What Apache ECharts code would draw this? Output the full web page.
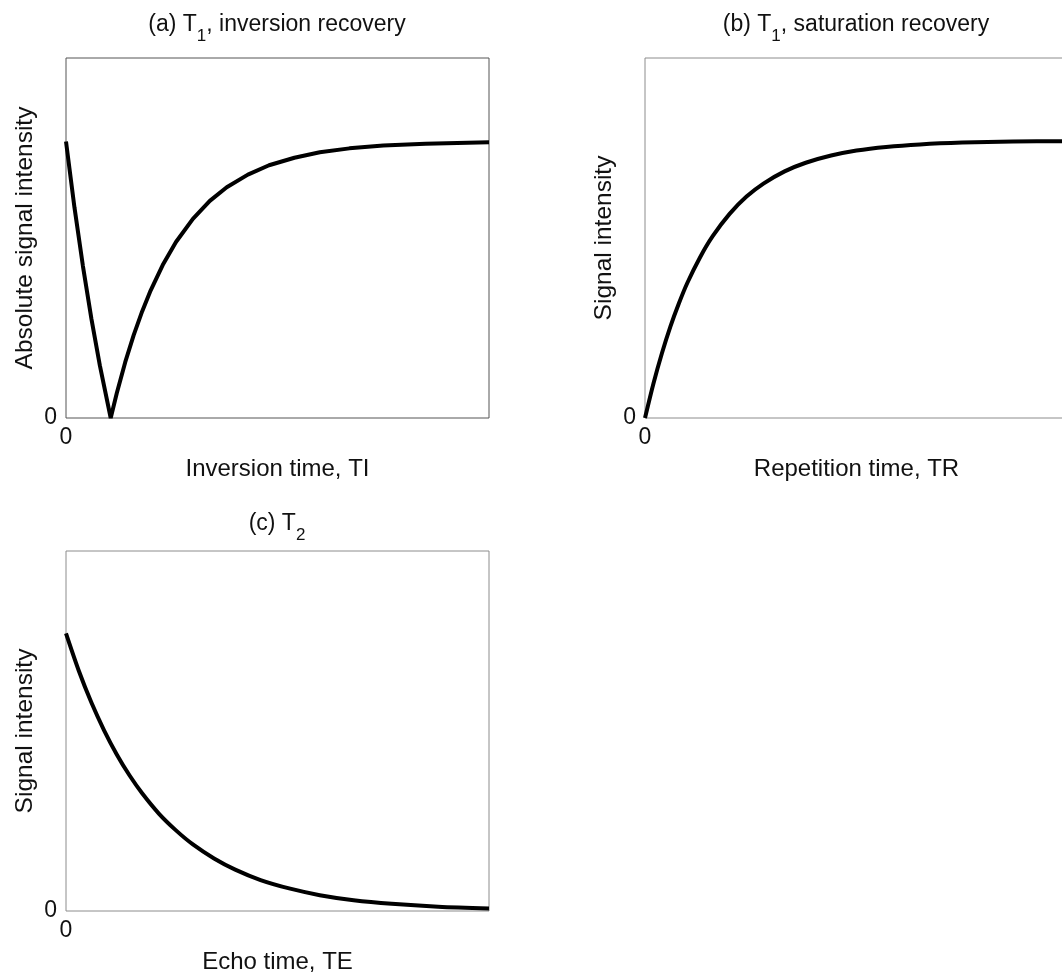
<!DOCTYPE html>
<html>
<head>
<meta charset="utf-8">
<script src="https://cdn.jsdelivr.net/npm/echarts@6/dist/echarts.min.js"></script>
<style>
  html, body { margin: 0; padding: 0; background: #fff; }
  #chart { width: 1062px; height: 977px; }
</style>
</head>
<body>
<div id="chart"></div>
<script>
// values, x in 0..100, y relative to panel height
const irTime = [0, 2, 4, 6, 8, 10.57, 12, 14, 16, 18, 20, 23, 26, 30, 34, 38, 43, 48, 54, 60, 67, 75, 85, 100];
const irSignal = [0.768, 0.585, 0.422, 0.276, 0.146, 0, 0.069, 0.155, 0.230, 0.296, 0.354, 0.428, 0.489, 0.553, 0.603, 0.641, 0.676, 0.702, 0.723, 0.738, 0.749, 0.757, 0.762, 0.766];

const srTime = [0, 2, 4, 6, 8, 10, 13, 16, 20, 24, 28, 33, 38, 44, 50, 57, 65, 75, 87, 100];
const srSignal = [0, 0.096, 0.180, 0.254, 0.318, 0.375, 0.446, 0.505, 0.567, 0.615, 0.651, 0.685, 0.709, 0.729, 0.743, 0.753, 0.760, 0.765, 0.768, 0.769];

const t2Time = [0, 3, 6, 9, 12, 15, 18, 22, 26, 30, 35, 40, 46, 53, 60, 68, 77, 88, 100];
const t2Signal = [0.771, 0.668, 0.579, 0.502, 0.435, 0.377, 0.327, 0.270, 0.224, 0.185, 0.146, 0.115, 0.086, 0.062, 0.044, 0.030, 0.020, 0.012, 0.007];

const panelTitles = ['(a) T{sub|1}, inversion recovery', '(b) T{sub|1}, saturation recovery', '(c) T{sub|2}'];
const xNames = ['Inversion time, TI', 'Repetition time, TR', 'Echo time, TE'];
const yNames = ['Absolute signal intensity', 'Signal intensity', 'Signal intensity'];

const font = "'Liberation Sans', Arial, sans-serif";
const textColor = '#111';

const grids = [
    { left: 66, top: 58, width: 423, height: 360, borderColor: '#555' },
    { left: 645, top: 58, width: 423, height: 360, borderColor: '#8c8c8c' },
    { left: 66, top: 551, width: 423, height: 360, borderColor: '#8c8c8c' }
].map(g => Object.assign({ show: true, borderWidth: 1, outerBoundsMode: 'none', containLabel: false }, g));
const titlePos = [[277, 5], [856, 5], [277, 504]];

const zeroOnly = v => (v === 0 ? '0' : '');

const chart = echarts.init(document.getElementById('chart'));

const option = {
    animation: false,
    backgroundColor: '#fff',
    title: panelTitles.map((t, i) => ({
        text: t,
        left: titlePos[i][0],
        top: titlePos[i][1],
        textAlign: 'center',
        padding: 0,
        textStyle: {
            fontFamily: font,
            fontSize: 23,
            fontWeight: 'normal',
            color: textColor,
            rich: {
                sub: { fontFamily: font, fontSize: 17, color: textColor, padding: [23, 0, 0, 0], verticalAlign: 'bottom' }
            }
        }
    })),
    grid: grids,
    xAxis: xNames.map((n, i) => ({
        type: 'value',
        gridIndex: i,
        min: 0,
        max: 100,
        interval: 100,
        name: n,
        nameLocation: 'middle',
        nameGap: 39,
        nameTextStyle: { fontFamily: font, fontSize: 24, color: textColor },
        axisLine: { show: false },
        axisTick: { show: false },
        splitLine: { show: false },
        axisLabel: { formatter: zeroOnly, fontFamily: font, fontSize: 23, color: textColor, margin: 8 }
    })),
    yAxis: yNames.map((n, i) => ({
        type: 'value',
        gridIndex: i,
        min: 0,
        max: 1,
        interval: 1,
        name: n,
        nameLocation: 'middle',
        nameGap: 28,
        nameTextStyle: { fontFamily: font, fontSize: 24.5, color: textColor },
        axisLine: { show: false },
        axisTick: { show: false },
        splitLine: { show: false },
        axisLabel: { formatter: zeroOnly, fontFamily: font, fontSize: 23, color: textColor, margin: 9 }
    })),
    series: [
        [irTime, irSignal],
        [srTime, srSignal],
        [t2Time, t2Signal]
    ].map(([xs, ys], i) => ({
        type: 'line',
        xAxisIndex: i,
        yAxisIndex: i,
        data: xs.map((x, k) => [x, ys[k]]),
        showSymbol: false,
        smooth: i === 0 ? false : 0.3,
        clip: false,
        lineStyle: { color: '#000', width: 4 }
    }))
};

chart.setOption(option);
</script>
</body>
</html>
